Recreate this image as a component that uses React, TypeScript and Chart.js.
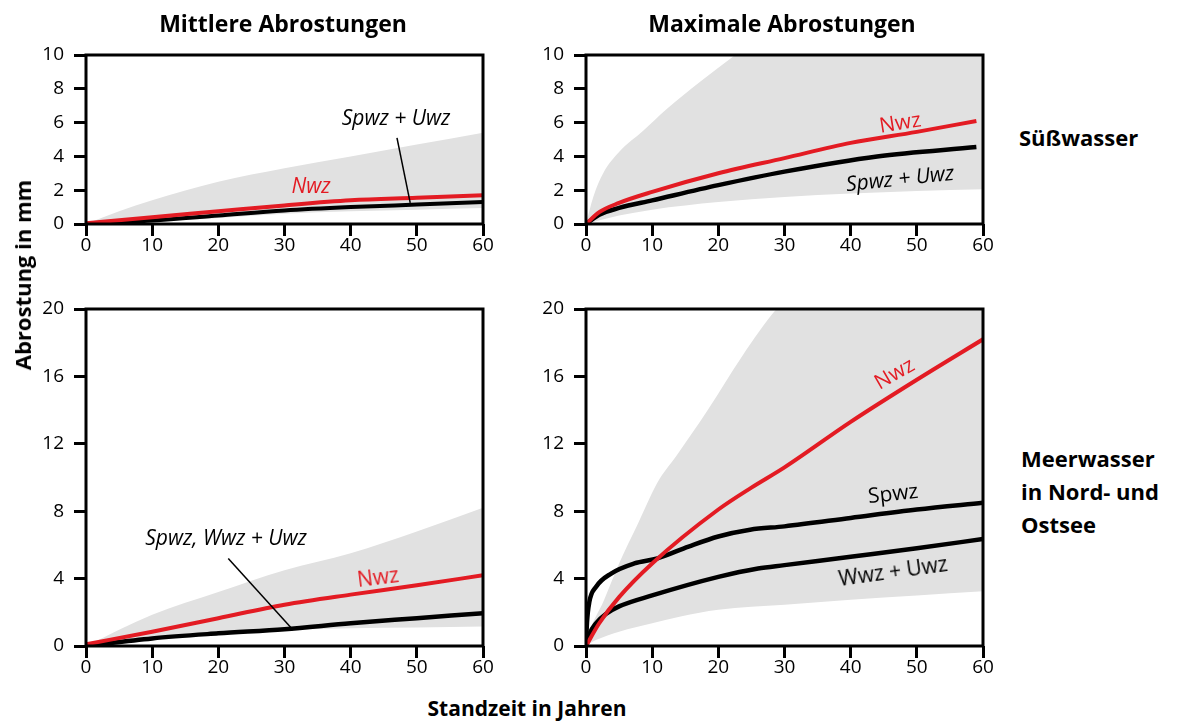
import React, { useEffect, useRef } from "react";
import { Chart, registerables } from "chart.js";

Chart.register(...registerables);

// ---------- data ----------
const xMin = 0;
const xMax = 60;
const xStep = 10;

// Top-left: Mittlere Abrostungen, Süßwasser
const tlBandYears = [0, 5, 10, 20, 30, 40, 50, 60];
const tlBandUpper = [0, 0.75, 1.4, 2.5, 3.3, 4.0, 4.7, 5.4];
const tlBandLower = [0, 0.05, 0.12, 0.35, 0.6, 0.75, 0.85, 0.95];
const tlLineYears = [0, 10, 20, 30, 40, 50, 60];
const tlNwz = [0.05, 0.4, 0.75, 1.1, 1.4, 1.55, 1.7];
const tlSpwzUwz = [0, 0.2, 0.5, 0.8, 1.0, 1.15, 1.3];

// Top-right: Maximale Abrostungen, Süßwasser
const trUpperYears = [0, 1.1, 2.6, 5.1, 8.6, 12.2, 17.2, 22.2, 30, 40, 60];
const trUpper = [0, 1.6, 3.0, 4.3, 5.5, 6.8, 8.4, 9.9, 12, 13, 14];
const trLowerYears = [0, 5, 10, 20, 30, 40, 50, 60];
const trLower = [0, 0.5, 0.85, 1.3, 1.6, 1.8, 1.95, 2.05];
const trNwzYears = [0, 2, 5, 10, 20, 30, 40, 50, 59];
const trNwz = [0, 0.7, 1.25, 1.9, 3.0, 3.9, 4.8, 5.45, 6.1];
const trSpwzYears = [0, 2, 5, 10, 20, 30, 44, 59];
const trSpwzUwz = [0, 0.55, 0.95, 1.4, 2.3, 3.1, 4.0, 4.55];

// Bottom-left: Mittlere Abrostungen, Meerwasser
const blYears = [0, 10, 20, 30, 40, 50, 60];
const blUpper = [0, 1.85, 3.2, 4.5, 5.5, 6.8, 8.2];
const blLower = [0, 0.55, 0.8, 0.95, 1.05, 1.1, 1.15];
const blNwz = [0.1, 0.85, 1.65, 2.45, 3.05, 3.6, 4.2];
const blSpwzWwzUwz = [0, 0.45, 0.75, 1.0, 1.35, 1.65, 1.95];

// Bottom-right: Maximale Abrostungen, Meerwasser
const brUpperYears = [0, 0.3, 2.7, 5, 7.9, 10.8, 13.7, 18.4, 23.6, 28.8, 40, 60];
const brUpper = [0, 0.55, 2.7, 4.9, 7.3, 9.7, 11.3, 14, 17.2, 20, 24, 28];
const brLowerYears = [0, 1.5, 5, 10, 14.3, 20, 30, 40, 50, 60];
const brLower = [0, 0.35, 0.85, 1.35, 1.75, 2.15, 2.45, 2.75, 3.0, 3.25];
const brNwzYears = [0, 2, 5, 10, 20, 25, 30, 40, 50, 60];
const brNwz = [0, 1.35, 2.9, 4.9, 8.1, 9.4, 10.6, 13.3, 15.8, 18.2];
const brSpwzYears = [0, 0.15, 0.5, 1.5, 3.8, 7.3, 10.8, 15.5, 20, 24.8, 30, 40, 50, 60];
const brSpwz = [0, 1.4, 2.6, 3.5, 4.3, 4.9, 5.2, 5.9, 6.5, 6.9, 7.1, 7.6, 8.1, 8.5];
const brWwzYears = [0, 0.5, 1.5, 3, 5, 10, 20, 26, 30, 40, 50, 60];
const brWwzUwz = [0, 0.7, 1.35, 1.9, 2.35, 3.0, 4.1, 4.6, 4.8, 5.3, 5.8, 6.35];

// annotation pointer lines (data coordinates: x1, y1, x2, y2)
const tlPointer = [47.0, 5.1, 49.0, 1.25];
const blPointer = [21.5, 5.2, 31.3, 0.95];

// ---------- styles ----------
const RED = "#e31b23";
const GREY = "#e1e1e1";
const FONT = "'Open Sans', sans-serif";

const zip = (xs: number[], ys: number[]) => xs.map((x, i) => ({ x, y: ys[i] }));

const band = (upper: any[], lower: any[]) => [
  {
    data: upper,
    borderWidth: 0,
    borderColor: "rgba(0,0,0,0)",
    backgroundColor: GREY,
    fill: "+1",
    pointRadius: 0,
    order: 10,
    cubicInterpolationMode: "monotone",
  },
  {
    data: lower,
    borderWidth: 0,
    borderColor: "rgba(0,0,0,0)",
    backgroundColor: GREY,
    fill: false,
    pointRadius: 0,
    order: 10,
    cubicInterpolationMode: "monotone",
  },
];

const line = (data: any[], color: string, width: number, order: number) => ({
  data,
  borderColor: color,
  borderWidth: width,
  fill: false,
  pointRadius: 0,
  order,
  cubicInterpolationMode: "monotone",
  borderCapStyle: "butt",
});

const framePlugin = {
  id: "frame",
  afterDatasetsDraw(chart: any, _args: any, opts: any) {
    const { ctx, chartArea } = chart;
    const xs = chart.scales.x;
    const ys = chart.scales.y;
    ctx.save();
    const p = opts && opts.pointer;
    if (p) {
      ctx.strokeStyle = "#000";
      ctx.lineWidth = 1.5;
      ctx.beginPath();
      ctx.moveTo(xs.getPixelForValue(p[0]), ys.getPixelForValue(p[1]));
      ctx.lineTo(xs.getPixelForValue(p[2]), ys.getPixelForValue(p[3]));
      ctx.stroke();
    }
    ctx.strokeStyle = "#000";
    ctx.lineWidth = 3;
    ctx.strokeRect(
      chartArea.left,
      chartArea.top,
      chartArea.right - chartArea.left,
      chartArea.bottom - chartArea.top
    );
    ctx.restore();
  },
};

type PanelProps = {
  left: number;
  top: number;
  plotH: number;
  yMax: number;
  yStep: number;
  datasets: any[];
  pointer?: number[];
};

const PAD_TOP = 26;
const PAD_RIGHT = 24;
const Y_W = 56;
const X_H = 36;
const PLOT_W = 397;

function Panel({ left, top, plotH, yMax, yStep, datasets, pointer }: PanelProps) {
  const ref = useRef<HTMLCanvasElement>(null);
  const width = Y_W + PLOT_W + PAD_RIGHT;
  const height = PAD_TOP + plotH + X_H;
  useEffect(() => {
    const tickGrid = {
      drawOnChartArea: false,
      drawTicks: true,
      tickLength: 12,
      tickWidth: 3,
      tickColor: "#000",
      color: "#000",
    };
    const chart = new Chart(ref.current as HTMLCanvasElement, {
      type: "line",
      data: { datasets },
      options: {
        animation: false,
        responsive: false,
        maintainAspectRatio: false,
        layout: { padding: { top: PAD_TOP, right: PAD_RIGHT, left: 0, bottom: 0 } },
        plugins: {
          legend: { display: false },
          tooltip: { enabled: false },
          filler: { drawTime: "beforeDatasetsDraw" },
          frame: { pointer },
        } as any,
        scales: {
          x: {
            type: "linear",
            min: xMin,
            max: xMax,
            ticks: {
              stepSize: xStep,
              color: "#000",
              font: { family: FONT, size: 19 },
              padding: -2,
              maxRotation: 0,
            },
            grid: tickGrid,
            border: { display: false },
            afterFit: (s: any) => {
              s.height = X_H;
            },
          },
          y: {
            type: "linear",
            min: 0,
            max: yMax,
            ticks: {
              stepSize: yStep,
              color: "#000",
              font: { family: FONT, size: 19 },
              padding: 10,
            },
            grid: tickGrid,
            border: { display: false },
            afterFit: (s: any) => {
              s.width = Y_W;
            },
          },
        } as any,
      } as any,
      plugins: [framePlugin],
    });
    return () => chart.destroy();
  }, []);
  return (
    <canvas
      ref={ref}
      width={width}
      height={height}
      style={{ position: "absolute", left: left - Y_W, top: top - PAD_TOP, width, height }}
    />
  );
}

const Label = ({
  x,
  y,
  text,
  size = 21,
  bold = false,
  italic = false,
  color = "#000",
  rotate = 0,
}: any) => (
  <div
    style={{
      position: "absolute",
      left: x,
      top: y,
      transform: `translate(-50%, -50%) rotate(${rotate}deg)`,
      fontFamily: FONT,
      fontSize: size,
      fontWeight: bold ? 700 : 400,
      fontStyle: italic ? "italic" : "normal",
      color,
      whiteSpace: "nowrap",
      lineHeight: 1,
    }}
  >
    {text}
  </div>
);

export default function App() {
  const tl = [
    ...band(zip(tlBandYears, tlBandUpper), zip(tlBandYears, tlBandLower)),
    line(zip(tlLineYears, tlSpwzUwz), "#000", 4, 1),
    line(zip(tlLineYears, tlNwz), RED, 4, 0),
  ];
  const tr = [
    ...band(zip(trUpperYears, trUpper), zip(trLowerYears, trLower)),
    line(zip(trSpwzYears, trSpwzUwz), "#000", 4.5, 1),
    line(zip(trNwzYears, trNwz), RED, 4, 0),
  ];
  const bl = [
    ...band(zip(blYears, blUpper), zip(blYears, blLower)),
    line(zip(blYears, blSpwzWwzUwz), "#000", 4.5, 1),
    line(zip(blYears, blNwz), RED, 4, 0),
  ];
  const br = [
    ...band(zip(brUpperYears, brUpper), zip(brLowerYears, brLower)),
    line(zip(brSpwzYears, brSpwz), "#000", 4.5, 1),
    line(zip(brWwzYears, brWwzUwz), "#000", 4.5, 1),
    line(zip(brNwzYears, brNwz), RED, 4, 0),
  ];
  return (
    <div
      style={{
        position: "absolute",
        left: 0,
        top: 0,
        width: 1181,
        height: 722,
        background: "#fff",
        overflow: "hidden",
      }}
    >
      <Panel left={86} top={55} plotH={169} yMax={10} yStep={2} datasets={tl} pointer={tlPointer} />
      <Panel left={586} top={55} plotH={169} yMax={10} yStep={2} datasets={tr} />
      <Panel left={86} top={309} plotH={337} yMax={20} yStep={4} datasets={bl} pointer={blPointer} />
      <Panel left={586} top={309} plotH={337} yMax={20} yStep={4} datasets={br} />

      <Label x={283} y={23} text="Mittlere Abrostungen" size={23} bold />
      <Label x={782} y={23} text="Maximale Abrostungen" size={23} bold />
      <div
        style={{
          position: "absolute",
          left: 1019,
          top: 123,
          fontFamily: FONT,
          fontSize: 22,
          fontWeight: 700,
          lineHeight: "28px",
        }}
      >
        Süßwasser
      </div>
      <div
        style={{
          position: "absolute",
          left: 1021,
          top: 442,
          fontFamily: FONT,
          fontSize: 22,
          fontWeight: 700,
          lineHeight: "33px",
          whiteSpace: "nowrap",
        }}
      >
        Meerwasser
        <br />
        in Nord- und
        <br />
        Ostsee
      </div>
      <Label x={22} y={275} text="Abrostung in mm" size={22} bold rotate={-90} />
      <Label x={527} y={708} text="Standzeit in Jahren" size={21} bold />

      <Label x={396} y={117} text="Spwz + Uwz" italic />
      <Label x={311} y={185} text="Nwz" italic color={RED} />

      <Label x={900} y={122} text="Nwz" color={RED} rotate={-9} />
      <Label x={900} y={178} text="Spwz + Uwz" italic rotate={-6} />

      <Label x={226} y={537} text="Spwz, Wwz + Uwz" italic />
      <Label x={378} y={577} text="Nwz" color={RED} rotate={-7} />

      <Label x={894} y={373} text="Nwz" color={RED} rotate={-30} />
      <Label x={893} y={493} text="Spwz" rotate={-6} />
      <Label x={893} y={571} text="Wwz + Uwz" rotate={-8} />
    </div>
  );
}
